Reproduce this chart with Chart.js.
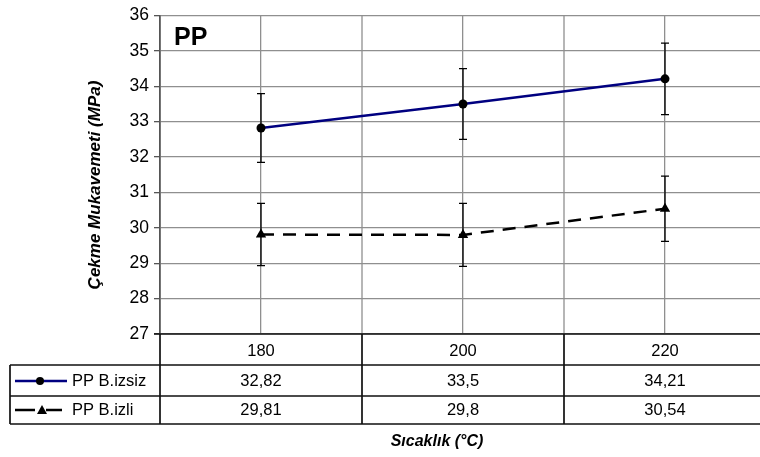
<!DOCTYPE html>
<html>
<head>
<meta charset="utf-8">
<script src="https://cdn.jsdelivr.net/npm/chart.js@4.4.1/dist/chart.umd.min.js"></script>
<style>
  html, body { margin: 0; padding: 0; background: #fff; overflow: hidden; }
  #wrap { width: 772px; height: 457px; }
</style>
</head>
<body>
<div id="wrap"><canvas id="myChart" width="772" height="457"></canvas></div>
<script>
// temperatures (°C)
const categories = ['180', '200', '220'];
// tensile strength (MPa)
const izsizValues = [32.82, 33.5, 34.21];
const izliValues = [29.81, 29.8, 30.54];
// error bar half widths
const izsizErr = [0.97, 1.0, 1.01];
const izliErr = [0.88, 0.89, 0.92];
const seriesNames = ['PP B.izsiz', 'PP B.izli'];
const yMin = 27, yMax = 36, yStep = 1;

const FONT = '"Liberation Sans", Arial, sans-serif';
const fmt = v => String(v).replace('.', ',');

const errorBars = {
  id: 'errorBars',
  afterDatasetsDraw(chart) {
    const ctx = chart.ctx;
    const y = chart.scales.y;
    const errs = [izsizErr, izliErr];
    ctx.save();
    ctx.strokeStyle = '#000';
    ctx.lineWidth = 1.3;
    chart.data.datasets.forEach((ds, i) => {
      const meta = chart.getDatasetMeta(i);
      ds.data.forEach((v, j) => {
        const px = meta.data[j].x;
        const top = y.getPixelForValue(v + errs[i][j]);
        const bot = y.getPixelForValue(v - errs[i][j]);
        ctx.beginPath();
        ctx.moveTo(px, top); ctx.lineTo(px, bot);
        ctx.moveTo(px - 4, top); ctx.lineTo(px + 4, top);
        ctx.moveTo(px - 4, bot); ctx.lineTo(px + 4, bot);
        ctx.stroke();
      });
    });
    ctx.restore();
  }
};

// vertical lines between categories plus the data table under the plot
const dataTable = {
  id: 'dataTable',
  beforeDatasetsDraw(chart) {
    const ctx = chart.ctx, a = chart.chartArea, x = chart.scales.x;
    ctx.save();
    ctx.strokeStyle = '#8f8f8f';
    ctx.lineWidth = 1.3;
    for (let i = 0; i < categories.length - 1; i++) {
      const b = (x.getPixelForValue(i) + x.getPixelForValue(i + 1)) / 2;
      ctx.beginPath(); ctx.moveTo(b, a.top); ctx.lineTo(b, a.bottom); ctx.stroke();
    }
    ctx.restore();
  },
  afterDraw(chart) {
    const ctx = chart.ctx, a = chart.chartArea, x = chart.scales.x;
    const r0 = a.bottom, r1 = 365, r2 = 396, r3 = 424, tl = 10;
    const bounds = [a.left];
    for (let i = 0; i < categories.length - 1; i++) {
      bounds.push((x.getPixelForValue(i) + x.getPixelForValue(i + 1)) / 2);
    }
    bounds.push(a.right);

    ctx.save();
    ctx.strokeStyle = '#111';
    ctx.lineWidth = 1.7;
    ctx.beginPath();
    ctx.moveTo(a.left - 6, r0); ctx.lineTo(a.right, r0);
    [r1, r2, r3].forEach(r => { ctx.moveTo(tl, r); ctx.lineTo(a.right, r); });
    ctx.moveTo(tl, r1); ctx.lineTo(tl, r3);
    bounds.forEach(b => { ctx.moveTo(b, r0); ctx.lineTo(b, r3); });
    ctx.stroke();

    ctx.fillStyle = '#000';
    ctx.font = '16.5px ' + FONT;
    ctx.textAlign = 'center';
    ctx.textBaseline = 'middle';
    categories.forEach((c, i) => {
      const cx = x.getPixelForValue(i);
      ctx.fillText(c, cx, 351);
      ctx.fillText(fmt(izsizValues[i]), cx, 381);
      ctx.fillText(fmt(izliValues[i]), cx, 410);
    });

    // legend keys
    ctx.textAlign = 'left';
    ctx.fillText(seriesNames[0], 72, 381);
    ctx.fillText(seriesNames[1], 72, 410);
    ctx.strokeStyle = '#000080';
    ctx.lineWidth = 2.5;
    ctx.beginPath(); ctx.moveTo(15, 381); ctx.lineTo(67, 381); ctx.stroke();
    ctx.beginPath(); ctx.arc(40, 381, 4, 0, Math.PI * 2); ctx.fill();
    ctx.strokeStyle = '#000';
    ctx.lineWidth = 2.5;
    ctx.beginPath();
    ctx.moveTo(15, 410); ctx.lineTo(35, 410);
    ctx.moveTo(46, 410); ctx.lineTo(62, 410);
    ctx.stroke();
    ctx.beginPath();
    ctx.moveTo(42, 405); ctx.lineTo(47, 414); ctx.lineTo(37, 414); ctx.closePath(); ctx.fill();

    // titles
    ctx.font = 'bold 25px ' + FONT;
    ctx.textBaseline = 'alphabetic';
    ctx.fillText('PP', 174, 45);
    ctx.font = 'bold italic 16px ' + FONT;
    ctx.textAlign = 'center';
    ctx.textBaseline = 'middle';
    ctx.fillText('Sıcaklık (°C)', 437, 442);
    ctx.translate(95, 185);
    ctx.rotate(-Math.PI / 2);
    ctx.font = 'bold italic 17px ' + FONT;
    ctx.fillText('Çekme Mukavemeti (MPa)', 0, 0);
    ctx.restore();
  }
};

window.addEventListener('load', function () {
  const ctx = document.getElementById('myChart').getContext('2d');
  new Chart(ctx, {
    type: 'line',
    data: {
      labels: categories,
      datasets: [{
        label: seriesNames[0],
        data: izsizValues,
        borderColor: '#000080',
        borderWidth: 2.5,
        pointStyle: 'circle',
        pointRadius: 4.5,
        pointBackgroundColor: '#000',
        pointBorderColor: '#000',
        pointBorderWidth: 0,
        tension: 0
      }, {
        label: seriesNames[1],
        data: izliValues,
        borderColor: '#000',
        borderWidth: 2.5,
        borderDash: [13, 9],
        pointStyle: 'triangle',
        pointRadius: 6,
        pointBackgroundColor: '#000',
        pointBorderColor: '#000',
        pointBorderWidth: 0,
        tension: 0
      }]
    },
    options: {
      responsive: false,
      animation: false,
      events: [],
      layout: { padding: { left: 0, top: 13, right: 2, bottom: 123 } },
      plugins: { legend: { display: false }, tooltip: { enabled: false } },
      scales: {
        x: {
          type: 'category',
          offset: true,
          ticks: { display: false },
          grid: { color: '#8f8f8f', lineWidth: 1.3, drawTicks: false },
          border: { display: false },
          afterFit(s) { s.height = 0; }
        },
        y: {
          min: yMin,
          max: yMax,
          ticks: {
            stepSize: yStep,
            color: '#000',
            padding: 5,
            font: { family: FONT, size: 17.5 }
          },
          grid: { color: '#8f8f8f', lineWidth: 1.3, tickLength: 6, tickColor: '#555' },
          border: { color: '#555', width: 1.8 },
          afterFit(s) { s.width = 160; }
        }
      }
    },
    plugins: [errorBars, dataTable]
  });
});
</script>
</body>
</html>
